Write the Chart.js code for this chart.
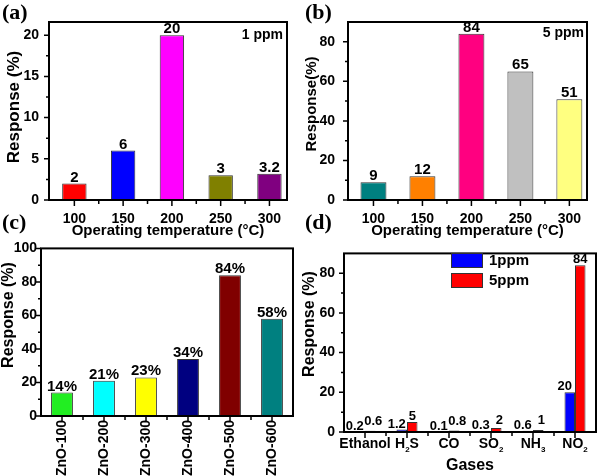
<!DOCTYPE html>
<html>
<head>
<meta charset="utf-8">
<script src="https://cdn.jsdelivr.net/npm/chart.js@4.4.1/dist/chart.umd.min.js"></script>
<style>
body { margin: 0; background: #fff; width: 600px; height: 476px; position: relative; overflow: hidden; }
canvas { position: absolute; }
.tag { position: absolute; z-index: 5; font: bold 22px "Liberation Serif", "Times New Roman", serif; line-height: 1; }
</style>
</head>
<body>
<canvas id="ca" width="300" height="240" style="left:0;top:0"></canvas>
<canvas id="cb" width="300" height="240" style="left:300px;top:0"></canvas>
<canvas id="cc" width="300" height="240" style="left:0;top:236px"></canvas>
<canvas id="cd" width="300" height="240" style="left:300px;top:236px"></canvas>
<div class="tag" style="left:2px;top:1px">(a)</div>
<div class="tag" style="left:305px;top:1px">(b)</div>
<div class="tag" style="left:2px;top:211px">(c)</div>
<div class="tag" style="left:305px;top:211px">(d)</div>
<script>
// data
var tempC = [100, 150, 200, 250, 300];
var resp1ppm = [2, 6, 20, 3, 3.2];
var resp5ppm = [9, 12, 84, 65, 51];
var samples = ['ZnO-100', 'ZnO-200', 'ZnO-300', 'ZnO-400', 'ZnO-500', 'ZnO-600'];
var sampleResp = [14, 21, 23, 34, 84, 58];
var gases = ['Ethanol', 'H2S', 'CO', 'SO2', 'NH3', 'NO2'];
var gas1ppm = [0.2, 1.2, 0.1, 0.3, 0.6, 20];
var gas5ppm = [0.6, 5, 0.8, 2, 1, 84];
var ticksA = [0, 5, 10, 15, 20];
var ticksB = [0, 20, 40, 60, 80];
var ticksC = [0, 20, 40, 60, 80, 100];
var ticksD = [0, 20, 40, 60, 80];

var colorsA = ['#ff0000', '#0000ff', '#ff00ff', '#808000', '#800080'];
var colorsB = ['#008080', '#ff8000', '#ff0080', '#c0c0c0', '#ffff80'];
var colorsC = ['#22ee22', '#00ffff', '#ffff00', '#000080', '#800000', '#008080'];

var SANS = '"Liberation Sans", Arial, sans-serif';
Chart.defaults.font.family = SANS;
Chart.defaults.font.weight = 'bold';
Chart.defaults.color = '#000';
Chart.defaults.animation = false;

// frame, minor ticks, value labels, titles
var decor = {
    id: 'decor',
    afterDatasetsDraw: function(chart, args, o) {
        var ctx = chart.ctx, a = chart.chartArea;
        var xs = chart.scales.x, ys = chart.scales.y;
        ctx.save();
        ctx.strokeStyle = '#000';
        ctx.lineWidth = 2;
        ctx.strokeRect(a.left, a.top, a.right - a.left, a.bottom - a.top);

        ctx.lineWidth = 1.5;
        ctx.beginPath();
        var yv = ys.ticks.map(function(t) { return t.value; });
        var half = (yv[1] - yv[0]) / 2;
        yv.forEach(function(v) {
            var p = ys.getPixelForValue(v);
            ctx.moveTo(a.left, p); ctx.lineTo(a.left - 5, p);
            if (v + half < ys.max - 0.01) {
                var q = ys.getPixelForValue(v + half);
                ctx.moveTo(a.left, q); ctx.lineTo(a.left - 3, q);
            }
        });
        var xp = xs.ticks.map(function(t, i) { return xs.getPixelForTick(i); });
        var hx = (xp[1] - xp[0]) / 2;
        xp.forEach(function(p) {
            ctx.moveTo(p, a.bottom); ctx.lineTo(p, a.bottom + 6);
        });
        [xp[0] - hx].concat(xp.map(function(p) { return p + hx; })).forEach(function(p) {
            if (p > a.left + 2 && p < a.right - 2) {
                ctx.moveTo(p, a.bottom); ctx.lineTo(p, a.bottom + 4);
            }
        });
        ctx.stroke();

        // value labels
        ctx.fillStyle = '#000';
        ctx.font = 'bold ' + o.labelSize + 'px ' + SANS;
        ctx.textAlign = 'center';
        ctx.textBaseline = 'alphabetic';
        var prev = [];
        chart.data.datasets.forEach(function(ds, di) {
            var meta = chart.getDatasetMeta(di);
            meta.data.forEach(function(bar, i) {
                var val = meta.controller.getParsed(i).y;
                var x = bar.x + (o.labelDx ? o.labelDx[di] : 0);
                var y = bar.y - 2;
                if (di > 0 && prev[i] !== undefined && Math.abs(prev[i] - y) < 5) {
                    y = prev[i] - 5;
                    x += 3;
                }
                ctx.fillText(val + (o.suffix || ''), x, y);
                prev[i] = y;
            });
        });

        // y title
        if (o.yTitle) {
            ctx.save();
            ctx.translate(o.yTitle.x, o.yTitle.y);
            ctx.rotate(-Math.PI / 2);
            ctx.font = 'bold ' + o.yTitle.size + 'px ' + SANS;
            ctx.textBaseline = 'middle';
            ctx.fillText(o.yTitle.text, 0, 0);
            ctx.restore();
        }

        // note text
        if (o.note) {
            ctx.font = 'bold 14px ' + SANS;
            ctx.textAlign = 'right';
            ctx.textBaseline = 'middle';
            ctx.fillText(o.note.text, o.note.x, o.note.y);
        }

        // gas labels with subscripts
        if (o.subLabels) {
            ctx.textBaseline = 'alphabetic';
            ctx.textAlign = 'left';
            o.subLabels.forEach(function(lab, i) {
                var parts = lab.match(/[0-9]+|[^0-9]+/g);
                var w = 0;
                parts.forEach(function(pt) {
                    ctx.font = 'bold ' + (/[0-9]/.test(pt) ? 8 : 14) + 'px ' + SANS;
                    w += ctx.measureText(pt).width;
                });
                var x = xp[i] - w / 2, yb = a.bottom + 16;
                parts.forEach(function(pt) {
                    var sub = /[0-9]/.test(pt);
                    ctx.font = 'bold ' + (sub ? 8 : 14) + 'px ' + SANS;
                    ctx.fillText(pt, x, sub ? yb + 4 : yb);
                    x += ctx.measureText(pt).width;
                });
            });
        }

        // legend
        if (o.legend) {
            ctx.textAlign = 'left';
            ctx.textBaseline = 'middle';
            ctx.font = 'bold 15px ' + SANS;
            ctx.lineWidth = 1;
            chart.data.datasets.forEach(function(ds, di) {
                var by = o.legend.y + di * 20;
                ctx.fillStyle = ds.backgroundColor;
                ctx.fillRect(o.legend.x, by, 32, 15);
                ctx.strokeStyle = '#333';
                ctx.strokeRect(o.legend.x + 0.5, by + 0.5, 31, 14);
                ctx.fillStyle = '#000';
                ctx.fillText(ds.label, o.legend.x + 38, by + 8);
            });
        }
        ctx.restore();
    }
};

function yScale(max, ticks, width, pad) {
    return {
        min: 0, max: max,
        afterBuildTicks: function(s) { s.ticks = ticks.map(function(v) { return { value: v }; }); },
        afterFit: function(s) { s.width = width; },
        grid: { display: false, drawTicks: false },
        border: { display: false },
        ticks: { padding: pad, font: { size: 14, weight: 'bold' }, color: '#000' }
    };
}

function tempScale(title) {
    return {
        type: 'linear', min: 74, max: 318, offset: false,
        afterBuildTicks: function(s) { s.ticks = tempC.map(function(v) { return { value: v }; }); },
        afterFit: function(s) { s.height = 40; },
        grid: { display: false, drawTicks: false },
        border: { display: false },
        ticks: { padding: 11, font: { size: 14, weight: 'bold' }, color: '#000' },
        title: { display: true, text: title, font: { size: 15, weight: 'bold' }, color: '#000', padding: { top: 0, bottom: 0 } }
    };
}

function points(ys) {
    return tempC.map(function(t, i) { return { x: t, y: ys[i] }; });
}

var noPlug = { legend: { display: false }, tooltip: { enabled: false } };

new Chart(document.getElementById('ca'), {
    type: 'bar',
    data: { datasets: [{ data: points(resp1ppm), backgroundColor: colorsA, borderColor: '#333', borderWidth: 1, barPercentage: 0.5, categoryPercentage: 1 }] },
    options: {
        responsive: false,
        layout: { padding: { left: 0, right: 13, top: 22, bottom: 0 } },
        scales: { x: tempScale('Operating temperature (°C)'), y: yScale(21.6, ticksA, 49, 10) },
        plugins: Object.assign({}, noPlug, {
            decor: { labelSize: 15, yTitle: { text: 'Response (%)', x: 14, y: 107, size: 17 }, note: { text: '1 ppm', x: 283, y: 35 } }
        })
    },
    plugins: [decor]
});

new Chart(document.getElementById('cb'), {
    type: 'bar',
    data: { datasets: [{ data: points(resp5ppm), backgroundColor: colorsB, borderColor: '#333', borderWidth: 1, barPercentage: 0.53, categoryPercentage: 1 }] },
    options: {
        responsive: false,
        layout: { padding: { left: 0, right: 13, top: 22, bottom: 0 } },
        scales: { x: tempScale('Operating temperature (°C)'), y: yScale(90, ticksB, 48, 13) },
        plugins: Object.assign({}, noPlug, {
            decor: { labelSize: 15, yTitle: { text: 'Response(%)', x: 12, y: 104, size: 15 }, note: { text: '5 ppm', x: 284, y: 33 } }
        })
    },
    plugins: [decor]
});

var xc = {
    afterFit: function(s) { s.height = 60; },
    grid: { display: false, drawTicks: false },
    border: { display: false },
    ticks: { padding: 4, minRotation: 90, maxRotation: 90, autoSkip: false, font: { size: 14, weight: 'bold' }, color: '#000' }
};
new Chart(document.getElementById('cc'), {
    type: 'bar',
    data: { labels: samples, datasets: [{ data: sampleResp, backgroundColor: colorsC, borderColor: '#333', borderWidth: 1, barPercentage: 0.52, categoryPercentage: 1 }] },
    options: {
        responsive: false,
        layout: { padding: { left: 0, right: 7, top: 12, bottom: 0 } },
        scales: { x: xc, y: yScale(100, ticksC, 41, 4) },
        plugins: Object.assign({}, noPlug, {
            decor: { labelSize: 15, suffix: '%', yTitle: { text: 'Response (%)', x: 9, y: 79, size: 16 } }
        })
    },
    plugins: [decor]
});

var xd = {
    afterFit: function(s) { s.height = 44; },
    grid: { display: false, drawTicks: false },
    border: { display: false },
    ticks: { display: false },
    title: { display: true, text: 'Gases', font: { size: 16, weight: 'bold' }, color: '#000', padding: { top: 0, bottom: 1 } }
};
new Chart(document.getElementById('cd'), {
    type: 'bar',
    data: {
        labels: gases,
        datasets: [
            { label: '1ppm', data: gas1ppm, backgroundColor: '#0000ff', borderColor: '#333', borderWidth: 1, barPercentage: 1, categoryPercentage: 0.5 },
            { label: '5ppm', data: gas5ppm, backgroundColor: '#ff0000', borderColor: '#333', borderWidth: 1, barPercentage: 1, categoryPercentage: 0.5 }
        ]
    },
    options: {
        responsive: false,
        layout: { padding: { left: 0, right: 4, top: 14, bottom: 0 } },
        scales: { x: xd, y: yScale(90, ticksD, 44, 9) },
        plugins: Object.assign({}, noPlug, {
            decor: {
                labelSize: 13, labelDx: [-5, 0],
                yTitle: { text: 'Response (%)', x: 10, y: 88, size: 16 },
                subLabels: gases,
                legend: { x: 151, y: 17 }
            }
        })
    },
    plugins: [decor]
});
</script>
</body>
</html>
